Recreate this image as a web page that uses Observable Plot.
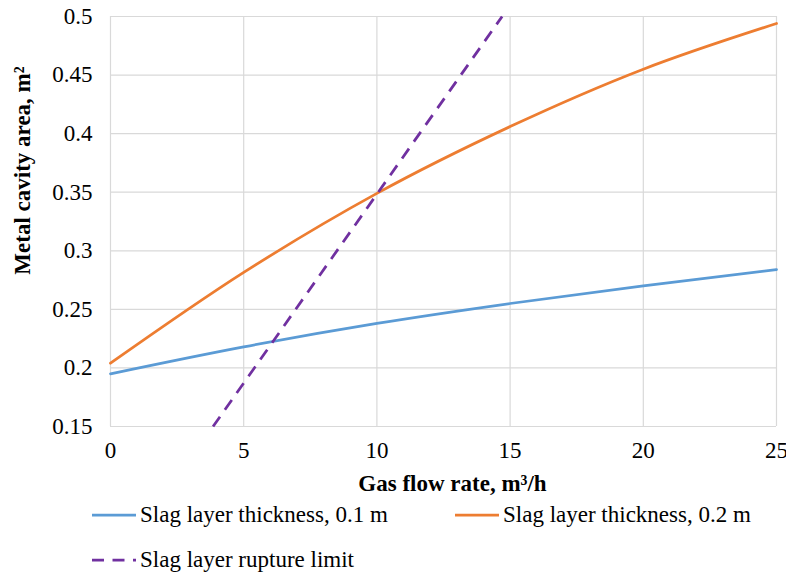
<!DOCTYPE html>
<html><head><meta charset="utf-8">
<script src="https://cdn.jsdelivr.net/npm/d3@7"></script>
<script src="https://cdn.jsdelivr.net/npm/@observablehq/plot@0.6"></script>
<style>
body{margin:0;background:#fff;font-family:'Liberation Serif',serif;}
#chart{position:relative;width:786px;height:574px;overflow:hidden;}
.leg{position:absolute;display:flex;align-items:center;font-family:'Liberation Serif',serif;font-size:23px;color:#000;white-space:nowrap;height:30px;}
.leg svg{margin-right:4px;}
</style></head><body><div id="chart"></div>
<script>
// Data
const flowRate = [0, 5, 10, 15, 20, 25];
const area01 = [0.195, 0.218, 0.238, 0.255, 0.270, 0.284];   // Slag layer thickness, 0.1 m
const area02 = [0.204, 0.2815, 0.349, 0.406, 0.455, 0.494];  // Slag layer thickness, 0.2 m
const ruptureX = [3.85, 14.7];
const ruptureY = [0.15, 0.5];
const xTicks = [0, 5, 10, 15, 20, 25];
const yTicks = [0.15, 0.2, 0.25, 0.3, 0.35, 0.4, 0.45, 0.5];
const seriesNames = ["Slag layer thickness, 0.1 m", "Slag layer thickness, 0.2 m", "Slag layer rupture limit"];
const colors = ["#5b9bd5", "#ed7d31", "#7030a0"];
const xTitle = "Gas flow rate, m³/h";
const yTitle = "Metal cavity area, m²";

const s1 = flowRate.map((x, i) => ({x, y: area01[i]}));
const s2 = flowRate.map((x, i) => ({x, y: area02[i]}));
const s3 = ruptureX.map((x, i) => ({x, y: ruptureY[i]}));

const FF = "Liberation Serif";
const DASH = "12,8.5";
const plot = Plot.plot({
  width: 786, height: 500,
  marginLeft: 110, marginRight: 10, marginTop: 16, marginBottom: 74,
  style: "font-family: 'Liberation Serif', serif; font-size: 23px; color: #000; background: #fff; overflow: visible;",
  x: {domain: [0, 25]},
  y: {domain: [0.15, 0.5]},
  marks: [
    Plot.ruleX(xTicks, {stroke: "#d9d9d9", strokeWidth: 1.2, strokeOpacity: 1}),
    Plot.ruleY(yTicks, {stroke: "#d9d9d9", strokeWidth: 1.2, strokeOpacity: 1}),
    Plot.line(s1, {x: "x", y: "y", stroke: colors[0], strokeWidth: 2.75, curve: "monotone-x"}),
    Plot.line(s2, {x: "x", y: "y", stroke: colors[1], strokeWidth: 2.75, curve: "monotone-x"}),
    Plot.line(s3, {x: "x", y: "y", stroke: colors[2], strokeWidth: 2.75, strokeDasharray: DASH, strokeLinecap: "butt"}),
    Plot.axisX(xTicks, {tickSize: 0, tickPadding: 15, tickFormat: d => String(d), label: null, fontSize: 23, fontFamily: FF, fill: "#000"}),
    Plot.axisY(yTicks, {tickSize: 0, tickPadding: 18, tickFormat: d => String(d), label: null, fontSize: 23, fontFamily: FF, fill: "#000"}),
    Plot.text([xTitle], {frameAnchor: "bottom", textAnchor: "middle", lineAnchor: "middle", dx: 9, dy: 57, fontWeight: "bold", fontSize: 23, fontFamily: FF, fill: "#000"}),
    Plot.text([yTitle], {frameAnchor: "left", textAnchor: "middle", lineAnchor: "middle", dx: -88, dy: -51, rotate: -90, fontWeight: "bold", fontSize: 23, fontFamily: FF, fill: "#000"})
  ]
});
const chart = document.getElementById("chart");
chart.appendChild(plot);

function legendItem(name, color, dashed, left, cy) {
  const d = document.createElement("div");
  d.className = "leg";
  d.style.left = left + "px";
  d.style.top = (cy - 15) + "px";
  d.innerHTML = `<svg width="44" height="10"><line x1="0" y1="5" x2="44" y2="5" stroke="${color}" stroke-width="2.75" ${dashed ? `stroke-dasharray="${DASH}"` : ''}/></svg><span>${name}</span>`;
  chart.appendChild(d);
}
legendItem(seriesNames[0], colors[0], false, 92, 515);
legendItem(seriesNames[1], colors[1], false, 455, 515);
legendItem(seriesNames[2], colors[2], true, 92, 560);
</script></body></html>
